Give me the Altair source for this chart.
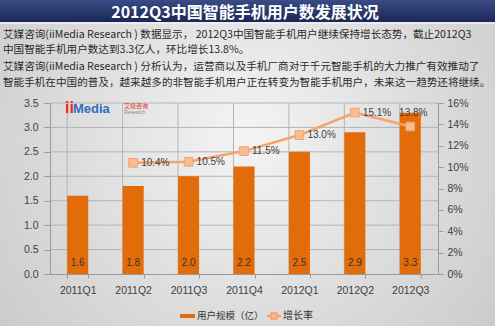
import altair as alt
import pandas as pd

quarters = ["2011Q1", "2011Q2", "2011Q3", "2011Q4", "2012Q1", "2012Q2", "2012Q3"]
users = [1.6, 1.8, 2.0, 2.2, 2.5, 2.9, 3.3]
growth = [None, 10.4, 10.5, 11.5, 13.0, 15.1, 13.8]
left_ticks = [0.0, 0.5, 1.0, 1.5, 2.0, 2.5, 3.0, 3.5]
right_ticks = [0.0, 0.02, 0.04, 0.06, 0.08, 0.10, 0.12, 0.14, 0.16]

title_text = "2012Q3中国智能手机用户数发展状况"
para_lines = [
    "艾媒咨询(iiMedia  Research ) 数据显示， 2012Q3中国智能手机用户继续保持增长态势，截止2012Q3",
    "中国智能手机用户数达到3.3亿人，环比增长13.8%。",
    "艾媒咨询(iiMedia  Research ) 分析认为，运营商以及手机厂商对于千元智能手机的大力推广有效推动了",
    "智能手机在中国的普及，越来越多的非智能手机用户正在转变为智能手机用户，未来这一趋势还将继续。",
]
legend_bar = "用户规模（亿）"
legend_line = "增长率"

df = pd.DataFrame({
    "q": quarters,
    "users": users,
    "rate": [None if g is None else g / 100 for g in growth],
})
one = pd.DataFrame({"k": [0]})
grid_df = pd.DataFrame({"g": left_ticks[1:]})

W, H = 388, 171
CJK = "Noto Sans CJK SC"
LAT = "Liberation Sans"
BAR = "#E36C0A"
LINE = "#F5A26B"
GRID = "#b4b4b4"
AX = "#9a9a9a"

xscale = alt.Scale(domain=quarters, paddingInner=0.62, paddingOuter=0.31)
xaxis = alt.Axis(title=None, tickBand="extent", grid=False, domainColor=AX, tickColor=AX,
                 tickSize=4, labelColor="#404040", labelFont=LAT, labelFontSize=10.5,
                 labelPadding=7, labelAngle=0, zindex=1)
X = alt.X("q:N", sort=quarters, scale=xscale, axis=xaxis)

lscale = alt.Scale(domain=[0, 3.5], nice=False)
laxis = alt.Axis(title=None, orient="left", values=left_ticks, format=".1f", grid=False,
                 tickSize=6, tickColor=AX, domainColor=AX, labelPadding=6,
                 labelColor="#404040", labelFont=LAT, labelFontSize=10.5, zindex=1)
rscale = alt.Scale(domain=[0, 0.16], nice=False)
raxis = alt.Axis(title=None, orient="right", values=right_ticks, format=".0%", grid=False,
                 tickSize=5, tickColor=AX, domainColor=AX, labelPadding=4,
                 labelColor="#404040", labelFont=LAT, labelFontSize=10.5, zindex=1)

bg = alt.Chart(one).mark_rect(
    fill=alt.RadialGradient(gradient="radial",
                            stops=[alt.GradientStop(offset=0, color="#f4f4f4"),
                                   alt.GradientStop(offset=1, color="#c0c0c0")],
                            x1=0.5, y1=0.45, r1=0, x2=0.5, y2=0.45, r2=0.8)
).encode(x=alt.value(-50), x2=alt.value(445), y=alt.value(-103), y2=alt.value(223))

banner = alt.Chart(one).mark_rect(
    fill=alt.LinearGradient(gradient="linear",
                            stops=[alt.GradientStop(offset=0, color="#3a4c86"),
                                   alt.GradientStop(offset=1, color="#1b2755")],
                            x1=0, y1=0, x2=0, y2=1)
).encode(x=alt.value(-50), x2=alt.value(445), y=alt.value(-103), y2=alt.value(-81))
banner_line = alt.Chart(one).mark_rule(color="#f0f0f0", strokeWidth=1.5).encode(
    x=alt.value(-50), x2=alt.value(445), y=alt.value(-80))

title = alt.Chart(one).mark_text(text=title_text, font=CJK, fontSize=16, fontWeight="bold",
                                 color="white", align="center", baseline="middle").encode(
    x=alt.value(195), y=alt.value(-90.5))

para = [alt.Chart(one).mark_text(text=t, font=CJK, fontSize=10.6, color="#2a2a2a",
                                 align="left", baseline="middle").encode(
    x=alt.value(-47), y=alt.value(yy)) for t, yy in zip(para_lines, [-68, -53, -36, -20])]

logo = [
    alt.Chart(one).mark_text(text="ii", font=LAT, fontSize=16, fontWeight="bold", color="#e42b2b",
                             align="left", baseline="alphabetic").encode(x=alt.value(15), y=alt.value(10)),
    alt.Chart(one).mark_text(text="Media", font=LAT, fontSize=13, fontWeight="bold", color="#2f6fbf",
                             align="left", baseline="alphabetic").encode(x=alt.value(23), y=alt.value(10)),
    alt.Chart(one).mark_text(text="艾媒咨询", font=CJK, fontSize=6, color="#e42b2b",
                             align="left", baseline="middle").encode(x=alt.value(74), y=alt.value(3)),
    alt.Chart(one).mark_text(text="Research", font=LAT, fontSize=5, color="#8a8a8a",
                             align="left", baseline="middle").encode(x=alt.value(74), y=alt.value(8.5)),
]

vgrid = alt.Chart(df).mark_rule(color=GRID, strokeWidth=1).encode(
    x=alt.X("q:N", sort=quarters, scale=xscale, axis=xaxis, bandPosition=0),
    y=alt.value(0), y2=alt.value(H))

hgrid = alt.Chart(grid_df).mark_rule(color=GRID, strokeWidth=1).encode(
    x=alt.value(0), x2=alt.value(W),
    y=alt.Y("g:Q", scale=lscale, axis=laxis))

bars = alt.Chart(df).mark_bar(color=BAR).encode(
    x=X, y=alt.Y("users:Q", scale=lscale, axis=laxis))

bar_labels = alt.Chart(df).transform_calculate(zero="0").mark_text(
    font=LAT, fontSize=10, color="#333333", baseline="middle", dy=-11).encode(
    x=X, y=alt.Y("zero:Q", scale=lscale, axis=laxis),
    text=alt.Text("users:Q", format=".1f"))

left = alt.layer(hgrid, bars, bar_labels)

ldf = df.dropna()
Yr = alt.Y("rate:Q", scale=rscale, axis=raxis)
line = alt.Chart(ldf).mark_line(color=LINE, strokeWidth=2.5).encode(x=X, y=Yr)
pts = alt.Chart(ldf).mark_point(shape="square", filled=True, size=75, fill="#F9BD94",
                                stroke=LINE, strokeWidth=1, opacity=1).encode(x=X, y=Yr)
lab1 = alt.Chart(ldf[ldf.q != "2012Q3"]).mark_text(
    font=LAT, fontSize=10, color="#404040", align="left", baseline="middle", dx=8).encode(
    x=X, y=Yr, text=alt.Text("rate:Q", format=".1%"))
lab2 = alt.Chart(ldf[ldf.q == "2012Q3"]).mark_text(
    font=LAT, fontSize=10, color="#404040", align="center", baseline="middle", dx=3, dy=-14).encode(
    x=X, y=Yr, text=alt.Text("rate:Q", format=".1%"))
right = alt.layer(line, pts, lab1, lab2)

leg = [
    alt.Chart(one).mark_rect(color=BAR).encode(x=alt.value(130), x2=alt.value(145),
                                               y=alt.value(211), y2=alt.value(215)),
    alt.Chart(one).mark_text(text=legend_bar, font=CJK, fontSize=9.5, color="#333333",
                             align="left", baseline="middle").encode(x=alt.value(147), y=alt.value(213)),
    alt.Chart(one).mark_rule(color=LINE, strokeWidth=2.5).encode(x=alt.value(217), x2=alt.value(231),
                                                                 y=alt.value(213)),
    alt.Chart(one).mark_point(shape="square", filled=True, size=30, fill="#F9BD94", stroke=LINE,
                              opacity=1).encode(x=alt.value(224), y=alt.value(213)),
    alt.Chart(one).mark_text(text=legend_line, font=CJK, fontSize=10, color="#333333",
                             align="left", baseline="middle").encode(x=alt.value(233), y=alt.value(213)),
]

chart = alt.layer(bg, banner, banner_line, title, *para, vgrid, left, right, *logo, *leg).resolve_scale(
    y="independent"
).properties(
    width=W, height=H,
    padding={"left": 50, "top": 103, "right": 57, "bottom": 52},
    autosize=alt.AutoSizeParams(type="none"),
    background="#d6d6d6",
).configure_view(strokeWidth=0)

chart.save("out.html", embed_options={"renderer": "svg", "actions": False})
